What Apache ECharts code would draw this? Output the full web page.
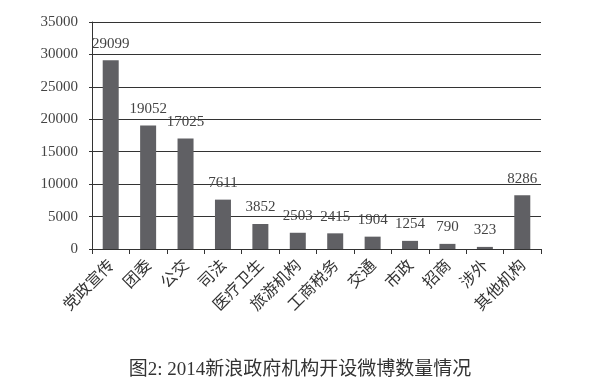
<!DOCTYPE html>
<html><head><meta charset="utf-8">
<script src="https://cdn.jsdelivr.net/npm/echarts@6/dist/echarts.min.js"></script>
<style>html,body{margin:0;padding:0;background:#fff}#c{width:600px;height:378px}</style>
</head><body><div id="c"></div>
<script>
const categories = ['党政宣传','团委','公交','司法','医疗卫生','旅游机构','工商税务','交通','市政','招商','涉外','其他机构'];
const values = [29099,19052,17025,7611,3852,2503,2415,1904,1254,790,323,8286];
const titleText = '图2: 2014新浪政府机构开设微博数量情况';
const serif = '"Liberation Serif","DejaVu Serif","Noto Sans CJK SC",serif';
const chart = echarts.init(document.getElementById('c'));
chart.setOption({
  animation:false,
  backgroundColor:'#fff',
  title:{text:titleText,left:'center',top:356,textStyle:{fontFamily:serif,fontSize:19,fontWeight:'normal',color:'#333'}},
  grid:{left:92,right:59,top:22,bottom:129},
  xAxis:{type:'category',data:categories,
    axisLine:{lineStyle:{color:'#333',width:1}},
    axisTick:{show:true,alignWithLabel:false,length:5,lineStyle:{color:'#333'}},
    axisLabel:{rotate:45,fontSize:16,color:'#333',margin:13,fontFamily:'"Noto Sans CJK SC",serif'}},
  yAxis:{type:'value',min:0,max:35000,interval:5000,
    axisLine:{show:true,lineStyle:{color:'#333'}},
    axisTick:{show:true,length:3,lineStyle:{color:'#333'}},
    axisLabel:{fontSize:15,color:'#444',margin:14,fontFamily:serif,formatter:v=>String(v)},
    splitLine:{lineStyle:{color:'#333',width:1}}},
  series:[{type:'bar',data:values,barWidth:16,itemStyle:{color:'#606064'},
    label:{show:true,position:'top',distance:9,fontSize:15,color:'#444',fontFamily:serif}}]
});
</script></body></html>
